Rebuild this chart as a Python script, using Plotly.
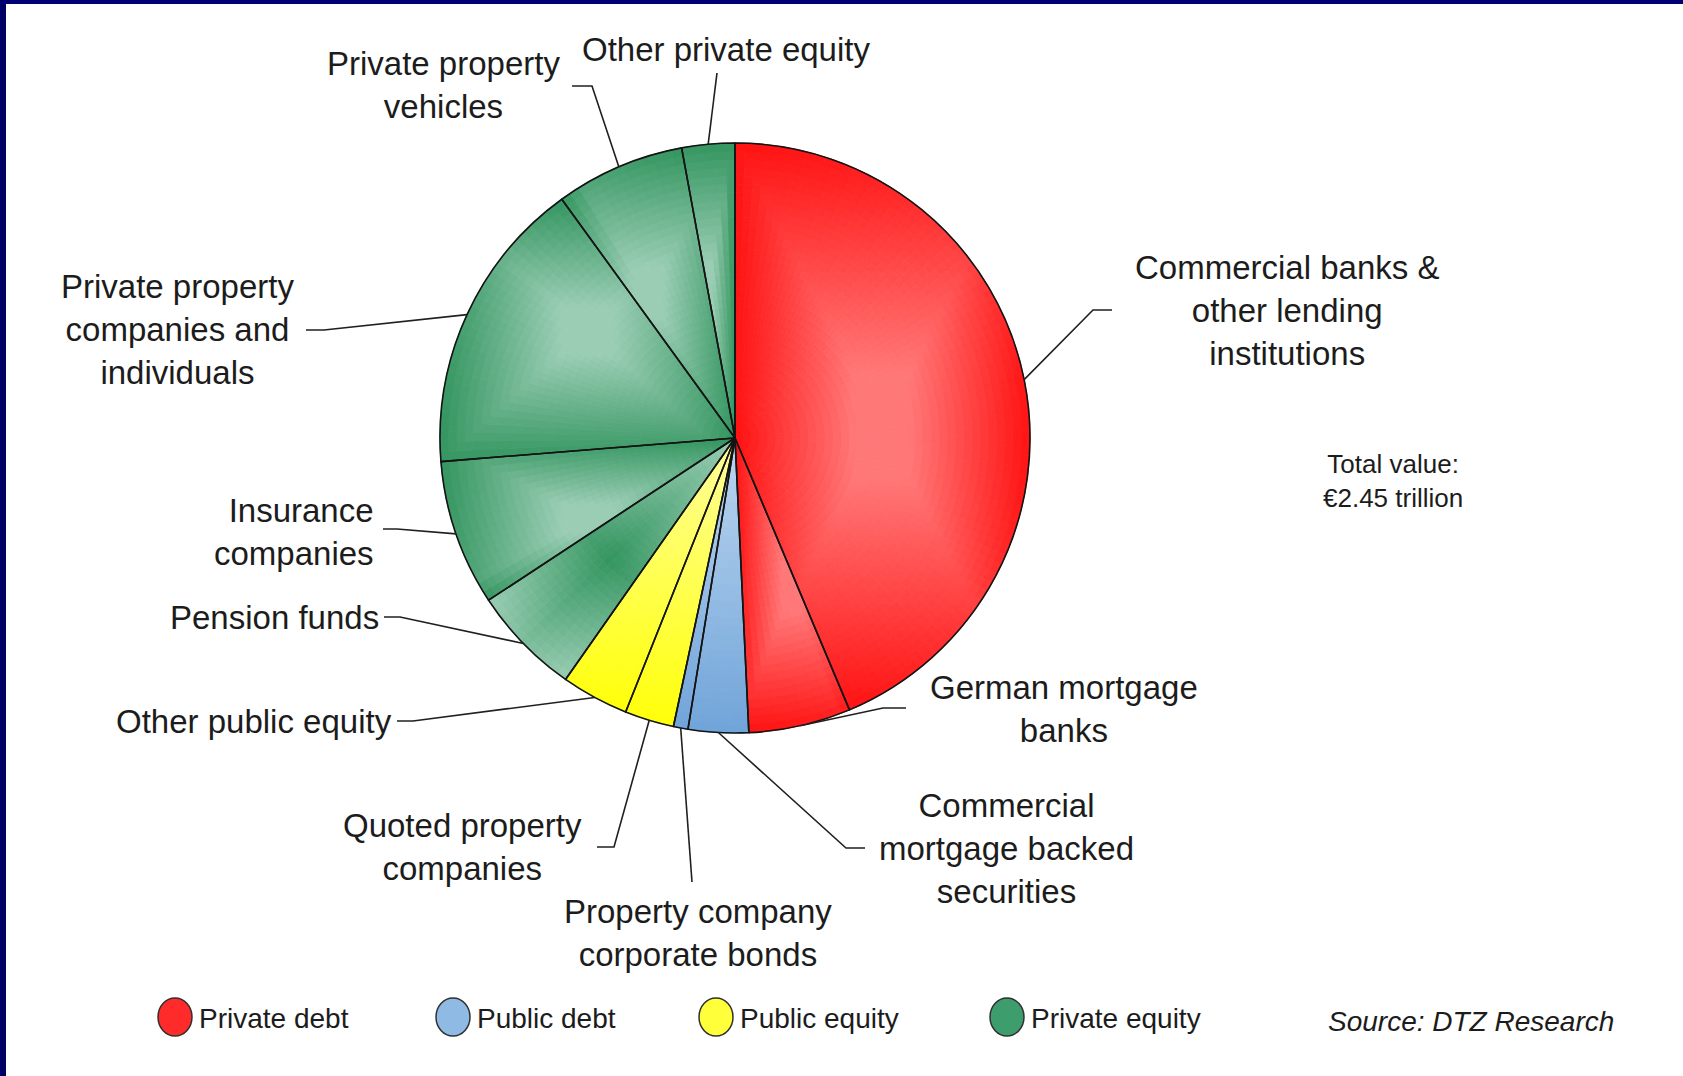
import numpy as np
import plotly.graph_objects as go

# Canvas size in pixels (margins are zero, so paper units map 1:1 to pixels)
W, H = 1683, 1076

# ---- data -----------------------------------------------------------------
categories = [
    "Commercial banks & other lending institutions",
    "German mortgage banks",
    "Commercial mortgage backed securities",
    "Property company corporate bonds",
    "Quoted property companies",
    "Other public equity",
    "Pension funds",
    "Insurance companies",
    "Private property companies and individuals",
    "Private property vehicles",
    "Other private equity",
]
# share of the €2.45 trillion total, %
shares = [43.7, 5.6, 3.3, 0.8, 2.7, 3.7, 6.0, 8.0, 16.3, 7.1, 2.9]
groups = [
    "Private debt", "Private debt",
    "Public debt", "Public debt",
    "Public equity", "Public equity",
    "Private equity", "Private equity", "Private equity", "Private equity", "Private equity",
]
label_text = [
    "Commercial banks &<br>other lending<br>institutions",
    "German mortgage<br>banks",
    "Commercial<br>mortgage backed<br>securities",
    "Property company<br>corporate bonds",
    "Quoted property<br>companies",
    "Other public equity",
    "Pension funds",
    "Insurance<br>companies",
    "Private property<br>companies and<br>individuals",
    "Private property<br>vehicles",
    "Other private equity",
]
legend_groups = ["Private debt", "Public debt", "Public equity", "Private equity"]
total_note = "Total value:<br>€2.45 trillion"
source_note = "Source: DTZ Research"

# ---- styling --------------------------------------------------------------
# slice shading: "box" = light centre fading to dark at the slice's bounding box,
# "vertical" = light at the top fading down.  Colours are (edge/bottom, centre/top).
group_shade = {
    "Private debt": ("box", "#FF1212", "#FF7878"),
    "Public debt": ("vertical", "#70A4D9", "#BCD6EF"),
    "Public equity": ("vertical", "#FFFF08", "#FFFF9C"),
    "Private equity": ("box", "#33955F", "#9ACDB4"),
}
inverted_shade = {"Pension funds"}  # dark centre, light rim
BOX_PLATEAU = 0.18    # fraction of the box that stays at the light colour

legend_fill = {
    "Private debt": "#FF2A2A",
    "Public debt": "#8FBAE3",
    "Public equity": "#FFFF3A",
    "Private equity": "#3E9D6D",
}
FONT = "Liberation Sans, Arial, sans-serif"
TEXT_COLOR = "#1c1c1c"

# pie geometry (pixels)
CX, CY, R = 735, 438, 295
N_RINGS = 36          # radial resolution of the shading
STEP_DEG = 2.0        # angular resolution of the shading

# label placement: text anchor point, alignment, and the leader-line bend points
label_layout = [
    dict(x=1287, y=310, align="center", path=[(1093, 310), (1112, 310)]),
    dict(x=1064, y=709, align="center", path=[(883, 708), (906, 708)]),
    dict(x=1006, y=848, align="center", path=[(846, 848), (865, 848)]),
    dict(x=698, y=933, align="center", path=[(692, 882)]),
    dict(x=462, y=847, align="center", path=[(614, 847), (597, 847)]),
    dict(x=394, y=721, align="right", path=[(413, 721), (397, 721)]),
    dict(x=381, y=617, align="right", path=[(400, 617), (384, 617)]),
    dict(x=376, y=532, align="right", path=[(397, 529), (383, 529)]),
    dict(x=177, y=329, align="center", path=[(324, 330), (306, 330)]),
    dict(x=443, y=85, align="center", path=[(592, 86), (572, 86)]),
    dict(x=726, y=50, align="center", path=[(717, 73)]),
]


def px(x):
    return x / W


def py(y):
    return 1 - y / H


def hex_rgb(h):
    h = h.lstrip("#")
    return np.array([int(h[k:k + 2], 16) for k in (0, 2, 4)], dtype=float)


def mix(c0, c1, t):
    """Blend from c0 (t=0) to c1 (t=1)."""
    c = hex_rgb(c0) * (1 - t) + hex_rgb(c1) * t
    return "rgb({:.0f},{:.0f},{:.0f})".format(*c)


def pie_domain(radius):
    return dict(x=[px(CX - radius), px(CX + radius)],
                y=[py(CY + radius), py(CY - radius)])


# slice angles (clockwise from 12 o'clock), derived from the shares
vals = np.array(shares, dtype=float)
frac = vals / vals.sum()
ends = np.cumsum(frac) * 2 * np.pi
starts = ends - frac * 2 * np.pi
mid = (starts + ends) / 2

# bounding box of each slice, relative to the pie centre (y pointing down)
bbox = []
for a0, a1 in zip(starts, ends):
    ang = np.linspace(a0, a1, 400)
    xs = np.r_[0.0, R * np.sin(ang)]
    ys = np.r_[0.0, -R * np.cos(ang)]
    bbox.append((xs.min(), xs.max(), ys.min(), ys.max()))

# split every slice into thin sub-slices so each can carry its own shade
sub_vals, sub_parent, sub_theta = [], [], []
for i, v in enumerate(vals):
    n = max(2, int(np.ceil(np.degrees(ends[i] - starts[i]) / STEP_DEG)))
    for j in range(n):
        sub_vals.append(v / n)
        sub_parent.append(i)
        sub_theta.append(starts[i] + (j + 0.5) * (ends[i] - starts[i]) / n)
sub_theta = np.array(sub_theta)
sub_labels = [f"s{m}" for m in range(len(sub_vals))]


def shade(i, x, y):
    x0, x1, y0, y1 = bbox[i]
    kind, c_edge, c_light = group_shade[groups[i]]
    if kind == "box":
        hw, hh = (x1 - x0) / 2, (y1 - y0) / 2
        t = max(abs(x - (x0 + x1) / 2) / hw, abs(y - (y0 + y1) / 2) / hh)
        if categories[i] in inverted_shade:
            t = 1 - float(np.clip(t, 0, 1))
        else:
            t = float(np.clip((t - BOX_PLATEAU) / (1 - BOX_PLATEAU), 0, 1))
        return mix(c_light, c_edge, t)
    t = float(np.clip((y - y0) / (y1 - y0), 0, 1))
    return mix(c_light, c_edge, t)


fig = go.Figure()

for k in range(N_RINGS):
    r_in = R * k / N_RINGS
    r_out = R * (k + 1) / N_RINGS
    rho = (r_in + r_out) / 2
    cols = [shade(i, rho * np.sin(sub_theta[m]), -rho * np.cos(sub_theta[m]))
            for m, i in enumerate(sub_parent)]
    fig.add_trace(go.Pie(
        labels=sub_labels, values=sub_vals, sort=False,
        direction="clockwise", rotation=0, hole=r_in / r_out,
        textinfo="none", hoverinfo="skip", showlegend=False,
        marker=dict(colors=cols, line=dict(color=cols, width=0.9)),
        domain=pie_domain(r_out),
    ))

# slice outlines (and hover) on top of the shading
fig.add_trace(go.Pie(
    labels=categories,
    values=shares,
    sort=False,
    direction="clockwise",
    rotation=0,
    textinfo="none",
    hoverinfo="label+percent",
    showlegend=False,
    marker=dict(colors=["rgba(0,0,0,0)"] * len(categories),
                line=dict(color="#141414", width=1.6)),
    domain=pie_domain(R),
))

# rim points at the middle of each slice
rim_x = CX + R * np.sin(mid)
rim_y = CY - R * np.cos(mid)

shapes = []
annotations = []
for i, lay in enumerate(label_layout):
    pts = [(rim_x[i], rim_y[i])] + lay["path"]
    d = "M " + " L ".join(f"{px(a):.5f},{py(b):.5f}" for a, b in pts)
    shapes.append(dict(type="path", path=d, xref="paper", yref="paper",
                       line=dict(color="#202020", width=1.6)))
    annotations.append(dict(
        text=label_text[i], x=px(lay["x"]), y=py(lay["y"]),
        xref="paper", yref="paper", showarrow=False,
        xanchor=lay["align"], yanchor="middle", align=lay["align"],
        font=dict(family=FONT, size=33, color=TEXT_COLOR),
    ))

annotations.append(dict(
    text=total_note, x=px(1393), y=py(481), xref="paper", yref="paper",
    showarrow=False, xanchor="center", yanchor="middle", align="center",
    font=dict(family=FONT, size=26, color=TEXT_COLOR),
))

# legend swatches and names along the bottom
legend_x = [175, 453, 716, 1007]
for g, lx in zip(legend_groups, legend_x):
    shapes.append(dict(type="circle", xref="paper", yref="paper",
                       x0=px(lx - 17), x1=px(lx + 17), y0=py(1036), y1=py(998),
                       fillcolor=legend_fill[g], line=dict(color="#303030", width=1.5)))
    annotations.append(dict(
        text=g, x=px(lx + 22), y=py(1018), xref="paper", yref="paper",
        showarrow=False, xanchor="left", yanchor="middle",
        font=dict(family=FONT, size=28, color=TEXT_COLOR),
    ))

annotations.append(dict(
    text=f"<i>{source_note}</i>", x=px(1471), y=py(1021), xref="paper", yref="paper",
    showarrow=False, xanchor="center", yanchor="middle",
    font=dict(family=FONT, size=28, color=TEXT_COLOR),
))

# dark frame along the left and top edges
shapes.append(dict(type="rect", xref="paper", yref="paper", x0=0, x1=px(6), y0=0, y1=1,
                   fillcolor="#000066", line=dict(width=0), layer="above"))
shapes.append(dict(type="rect", xref="paper", yref="paper", x0=0, x1=1, y0=py(4), y1=1,
                   fillcolor="#000070", line=dict(width=0), layer="above"))

fig.update_layout(
    width=W, height=H,
    margin=dict(l=0, r=0, t=0, b=0),
    paper_bgcolor="white",
    plot_bgcolor="white",
    shapes=shapes,
    annotations=annotations,
    showlegend=False,
)

fig.write_html("out.html", config={"displayModeBar": False})
